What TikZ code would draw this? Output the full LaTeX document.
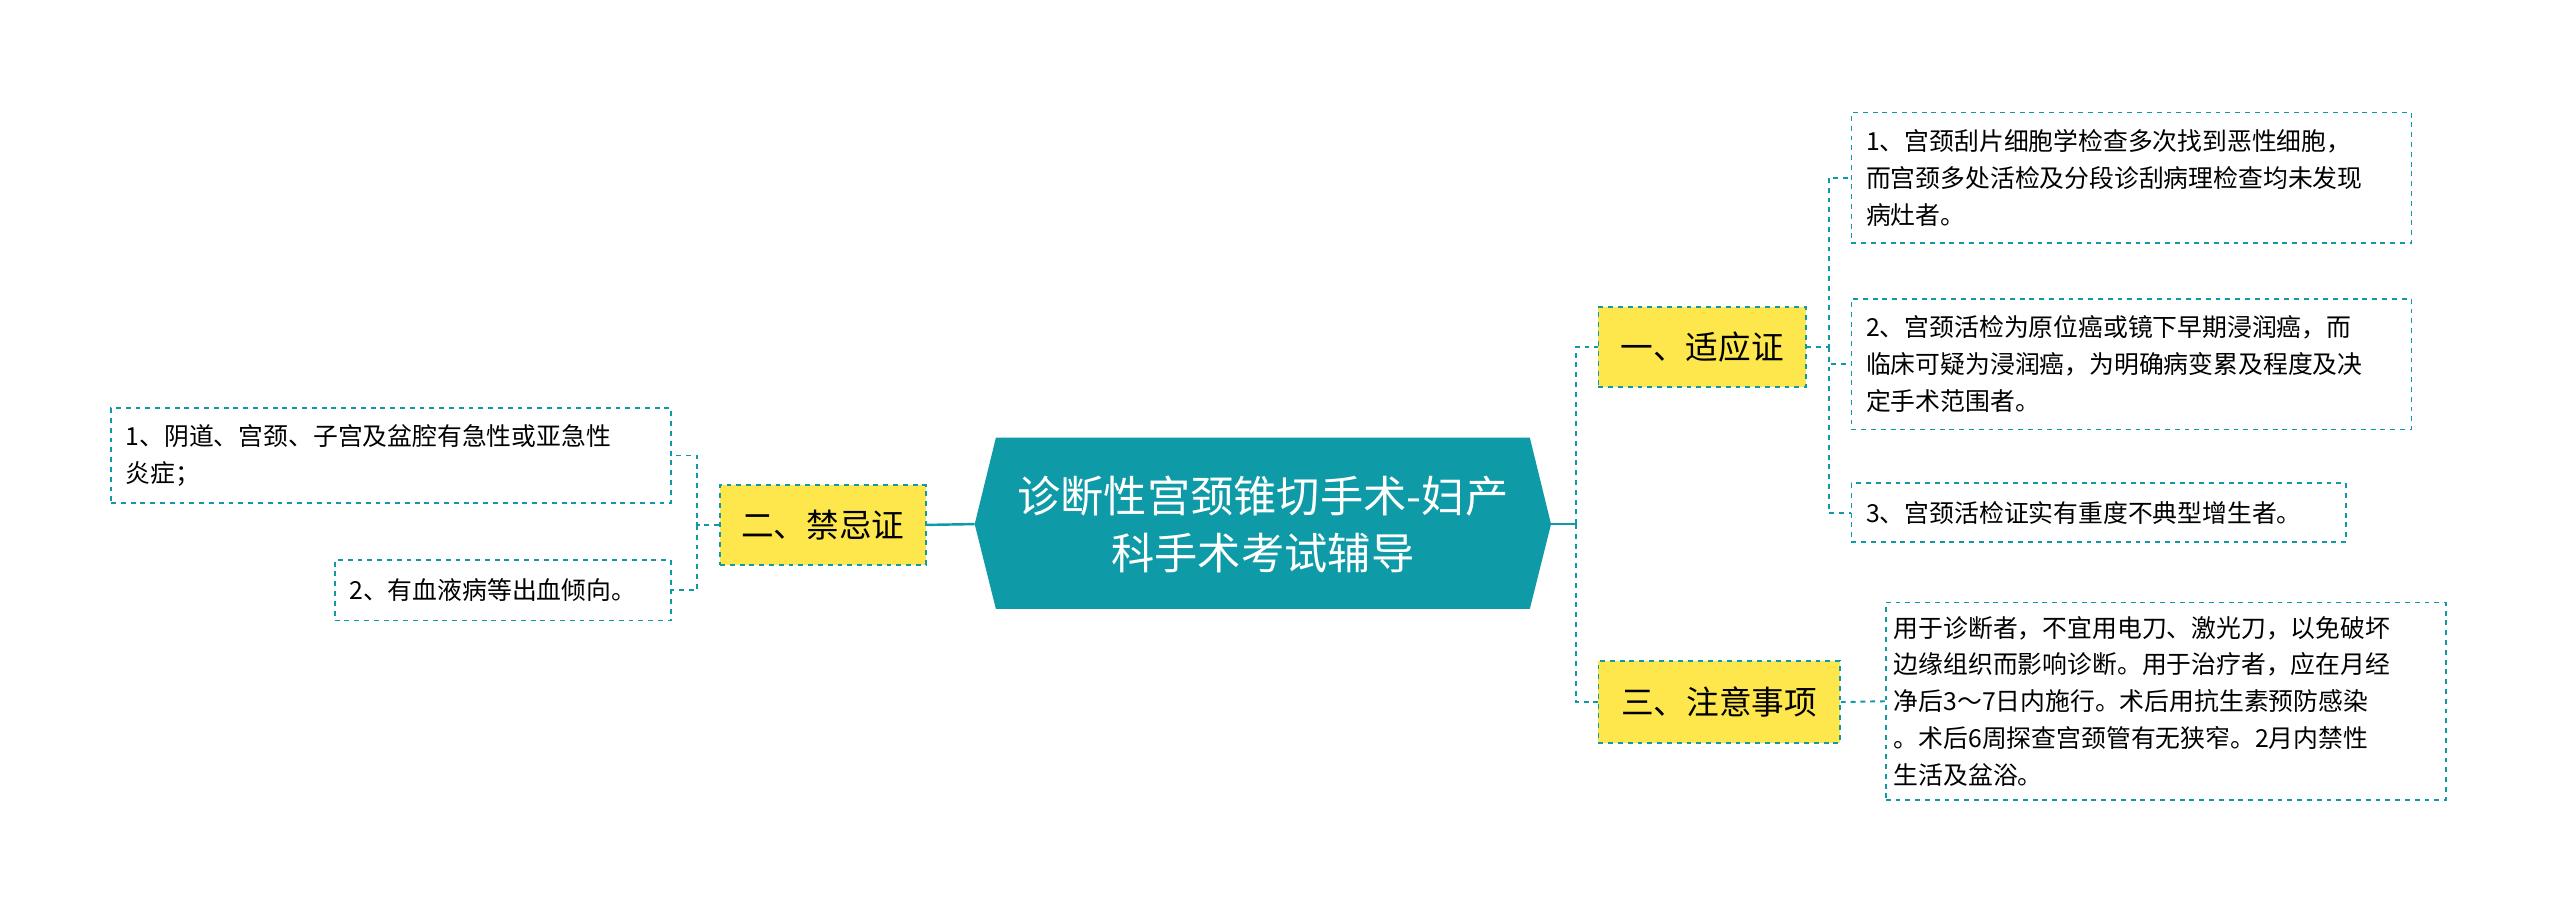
\documentclass[tikz,border=0pt]{standalone}
\usepackage{fontspec}
\setmainfont{Noto Sans CJK SC}
\definecolor{teal1}{HTML}{0E9AA7}
\definecolor{yel}{HTML}{FDE74C}
\begin{document}
\begin{tikzpicture}[x=1pt,y=-1pt,
  con/.style={teal1,dashed,line width=1.2pt},
  mid/.style={draw=teal1,dashed,fill=yel,line width=1pt,font=\fontsize{20}{24}\selectfont,inner sep=0pt},
  leaf/.style={draw=teal1,dashed,line width=1pt,font=\fontsize{15.2}{22.5}\selectfont,align=left,inner sep=0pt}]
\useasboundingbox (0,0) rectangle (1568,560);
\fill[teal1] (597,321)--(610,268)--(937,268)--(950,321)--(937,373)--(610,373)--cycle;
\node[text=white,font=\fontsize{26.5}{35}\selectfont,align=center] (c) at (773.5,321) {诊断性宫颈锥切手术-妇产\\科手术考试辅导};
\coordinate (cl) at (597,321); \coordinate (cr) at (950,321);
\node[mid,minimum width=126,minimum height=49] (l) at (504,321.5) {二、禁忌证};
\node[mid,minimum width=127,minimum height=49] (a) at (1042.5,212.5) {一、适应证};
\node[mid,minimum width=148,minimum height=50] (b) at (1053,430) {三、注意事项};
\node[leaf,minimum width=343,minimum height=58,text width=325] (l1) at (239.5,279) {1、阴道、宫颈、子宫及盆腔有急性或亚急性\\炎症；};
\node[leaf,minimum width=206,minimum height=37,text width=188] (l2) at (308,361.5) {2、有血液病等出血倾向。};
\node[leaf,minimum width=343,minimum height=80,text width=325] (r1) at (1305.5,109) {1、宫颈刮片细胞学检查多次找到恶性细胞，\\而宫颈多处活检及分段诊刮病理检查均未发现\\病灶者。};
\node[leaf,minimum width=343,minimum height=80,text width=325] (r2) at (1305.5,223) {2、宫颈活检为原位癌或镜下早期浸润癌，而\\临床可疑为浸润癌，为明确病变累及程度及决\\定手术范围者。};
\node[leaf,minimum width=303,minimum height=36,text width=285] (r3) at (1285.5,314) {3、宫颈活检证实有重度不典型增生者。};
\node[leaf,minimum width=343,minimum height=121,text width=333] (r4) at (1326.5,429.5) {用于诊断者，不宜用电刀、激光刀，以免破坏\\边缘组织而影响诊断。用于治疗者，应在月经\\净后3～7日内施行。术后用抗生素预防感染\\。术后6周探查宫颈管有无狭窄。2月内禁性\\生活及盆浴。};
\draw[teal1,line width=1.5pt] (cl)--(l.east);
\draw[teal1,line width=1.5pt] (cr)--(965,321);
\draw[con] (965,321)|-(a.west);
\draw[con] (965,321)|-(b.west);
\draw[con] (l.west)--(427,321.5)|-(l1.east);
\draw[con] (427,321.5)|-(l2.east);
\draw[con] (a.east)--(1120,212.5)|-(r1.west);
\draw[con] (1120,212.5)|-(r2.west);
\draw[con] (1120,212.5)|-(r3.west);
\draw[con] (b.east)--(r4.west);
\end{tikzpicture}
\end{document}
